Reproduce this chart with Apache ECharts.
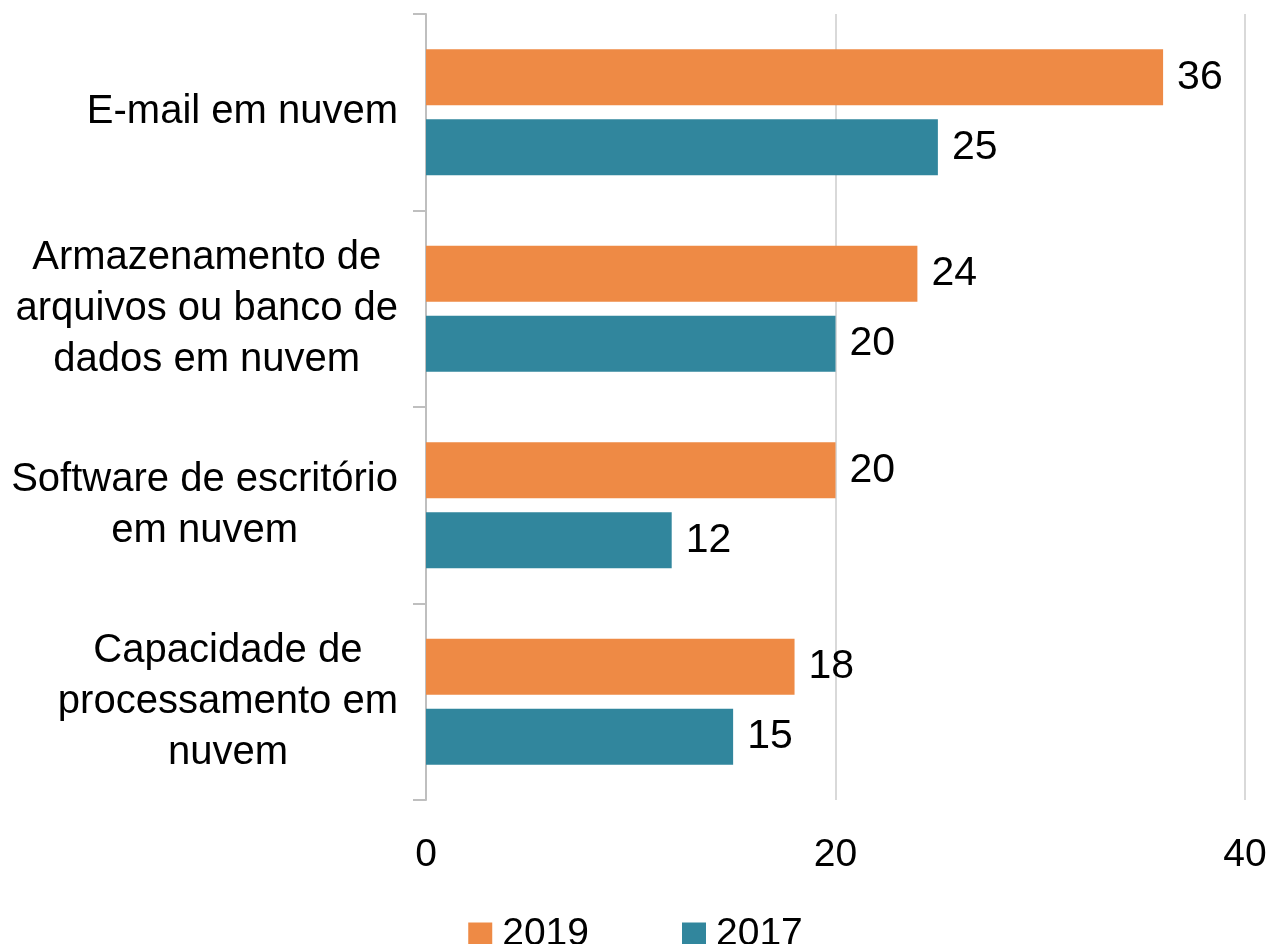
<!DOCTYPE html>
<html>
<head>
    <meta charset="utf-8">
    <script src="https://cdn.jsdelivr.net/npm/echarts@6/dist/echarts.min.js"></script>
    <style>
        html, body { margin: 0; padding: 0; background: #fff; }
        #main { width: 1271px; height: 944px; }
    </style>
</head>
<body>
<div id="main"></div>
<script type="text/javascript">
    // categories, top to bottom
    var categories = [
        'E-mail em nuvem',
        'Armazenamento de\narquivos ou banco de\ndados em nuvem',
        'Software de escritório\nem nuvem',
        'Capacidade de\nprocessamento em\nnuvem'
    ];
    var data2019 = [36, 24, 20, 18];
    var data2017 = [25, 20, 12, 15];
    var xTicks = [0, 20, 40];

    var font = 'Liberation Sans';
    var myChart = echarts.init(document.getElementById('main'));

    var option = {
        animation: false,
        textStyle: { fontFamily: font },
        grid: { left: 426, right: 26, top: 14, bottom: 144, containLabel: false },
        legend: {
            data: ['2019', '2017'],
            top: 910,
            left: 'center',
            itemWidth: 24,
            itemHeight: 24,
            itemGap: 93,
            icon: 'rect',
            textStyle: { fontSize: 39, color: '#000', fontFamily: font, padding: [0, 0, 0, 5] }
        },
        xAxis: {
            type: 'value',
            min: xTicks[0],
            max: xTicks[xTicks.length - 1],
            interval: 20,
            axisLine: { show: false },
            axisTick: { show: false },
            splitLine: {
                show: true,
                lineStyle: { color: '#D9D9D9', width: 2 }
            },
            axisLabel: {
                margin: 36,
                fontSize: 39,
                color: '#000',
                fontFamily: font
            }
        },
        yAxis: {
            type: 'category',
            inverse: true,
            data: categories,
            axisLine: { show: true, lineStyle: { color: '#BFBFBF', width: 2 } },
            axisTick: { show: true, length: 13, lineStyle: { color: '#BFBFBF', width: 2 } },
            axisLabel: {
                margin: 28,
                align: 'right',
                color: '#000',
                fontSize: 40,
                lineHeight: 51,
                fontFamily: font,
                formatter: function (v) {
                    return v.split('\n').map(function (s) { return '{c|' + s + '}'; }).join('\n');
                },
                rich: {
                    c: { align: 'center', fontSize: 40, lineHeight: 51, color: '#000', fontFamily: font }
                }
            }
        },
        series: [
            {
                name: '2019',
                type: 'bar',
                data: data2019,
                barWidth: 56,
                barGap: '25%',
                itemStyle: { color: '#EE8A45' },
                label: {
                    show: true,
                    position: 'right',
                    distance: 14,
                    fontSize: 41,
                    color: '#000',
                    fontFamily: font
                }
            },
            {
                name: '2017',
                type: 'bar',
                data: data2017,
                barWidth: 56,
                barGap: '25%',
                itemStyle: { color: '#31869D' },
                label: {
                    show: true,
                    position: 'right',
                    distance: 14,
                    fontSize: 41,
                    color: '#000',
                    fontFamily: font
                }
            }
        ]
    };

    myChart.setOption(option);
</script>
</body>
</html>
